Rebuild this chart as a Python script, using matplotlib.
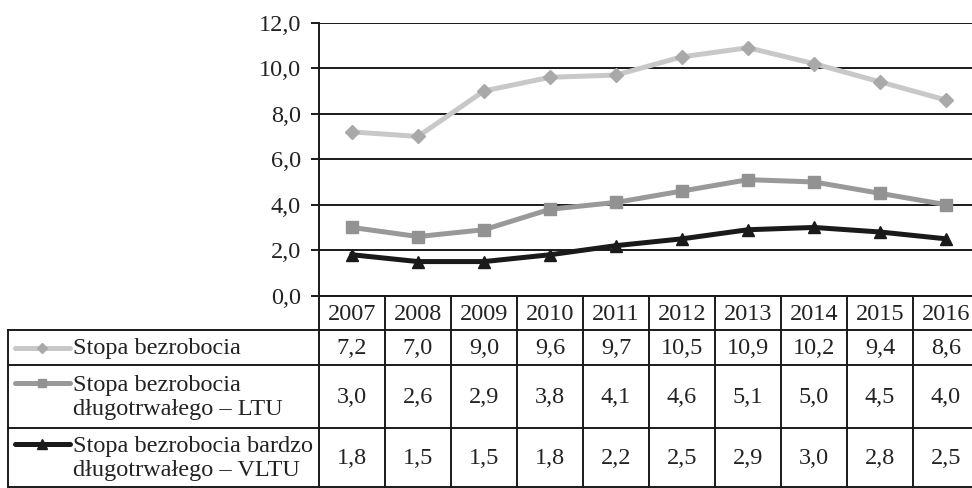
import numpy as np
import matplotlib
matplotlib.use('Agg')
import matplotlib.pyplot as plt
from matplotlib.transforms import blended_transform_factory

plt.rcParams['font.family'] = ['Liberation Serif', 'DejaVu Serif']

# Dane
years = ['2007', '2008', '2009', '2010', '2011', '2012', '2013', '2014', '2015', '2016']
stopa = [7.2, 7.0, 9.0, 9.6, 9.7, 10.5, 10.9, 10.2, 9.4, 8.6]
ltu = [3.0, 2.6, 2.9, 3.8, 4.1, 4.6, 5.1, 5.0, 4.5, 4.0]
vltu = [1.8, 1.5, 1.5, 1.8, 2.2, 2.5, 2.9, 3.0, 2.8, 2.5]
labels = ['Stopa bezrobocia',
          'Stopa bezrobocia\ndługotrwałego – LTU',
          'Stopa bezrobocia bardzo\ndługotrwałego – VLTU']

FS = 17.5


def fmt(v):
    return ('%.1f' % v).replace('.', ',')


W, H = 972, 488
fig = plt.figure(figsize=(W / 100, H / 100), dpi=100)

# obszar wykresu (w pikselach)
left, right, top, bottom = 319, 979, 22.7, 295.7
ax = fig.add_axes([left / W, (H - bottom) / H, (right - left) / W, (bottom - top) / H])
x = np.arange(len(years))

styles = [
    dict(color='#c8c8c8', marker='D', mfc='#a9a9a9', mec='#a9a9a9', ms=7),
    dict(color='#999999', marker='s', mfc='#929292', mec='#929292', ms=8),
    dict(color='#1a1a1a', marker='^', mfc='#1a1a1a', mec='#1a1a1a', ms=9),
]
series = [stopa, ltu, vltu]
for vals, st in zip(series, styles):
    ax.plot(x, vals, lw=3.6, solid_joinstyle='round', zorder=3, **st)

ax.set_xlim(-0.5, len(years) - 0.5)
ax.set_ylim(0, 12)
ax.set_yticks(np.arange(0, 13, 2))
ax.set_yticklabels([fmt(v) for v in np.arange(0, 13, 2)], fontsize=FS)
ax.set_xticks([])
ax.yaxis.grid(True, color='#1a1a1a', lw=1.4)
ax.set_axisbelow(True)
for s in ['top', 'right', 'bottom']:
    ax.spines[s].set_visible(False)
ax.spines['left'].set_color('#1a1a1a')
ax.spines['left'].set_linewidth(1.4)
ax.tick_params(axis='y', length=6, width=1.4, color='#1a1a1a', pad=7, labelcolor='#222222')
ax.patch.set_alpha(0)

# tabela danych
tab = fig.add_axes([0, 0, 1, 1], zorder=-1)
tab.set_xlim(0, W)
tab.set_ylim(H, 0)
tab.axis('off')
tr = blended_transform_factory(ax.transData, tab.transData)

rows = [296, 330, 365, 428, 487]
lc = '#1a1a1a'
lw = 1.4
x0 = -0.5
x1 = len(years) - 0.5
# linie poziome
tab.plot([x0, x1], [rows[0], rows[0]], color=lc, lw=lw, transform=tr, clip_on=False)
for r in rows[1:]:
    tab.plot([8, W + 10], [r, r], color=lc, lw=lw, clip_on=False)
# linie pionowe
for k in range(len(years) + 1):
    tab.plot([k - 0.5, k - 0.5], [rows[0], rows[-1]], color=lc, lw=lw, transform=tr, clip_on=False)
tab.plot([8, 8], [rows[1], rows[-1]], color=lc, lw=lw)

# nagłówek z latami
for i, yr in enumerate(years):
    tab.text(i, (rows[0] + rows[1]) / 2 + 1, yr, transform=tr, ha='center', va='center',
             fontsize=FS, color='#222222')

# wiersze z wartościami i legendą
for j, (vals, st, lab) in enumerate(zip(series, styles, labels)):
    yc = (rows[j + 1] + rows[j + 2]) / 2
    for i, v in enumerate(vals):
        tab.text(i, yc + 1, fmt(v), transform=tr, ha='center', va='center',
                 fontsize=FS, color='#222222')
    nl = lab.count('\n') + 1
    ly = yc - (nl - 1) * 13.5
    tab.plot([15, 70], [ly, ly], color=st['color'], lw=3.6, solid_capstyle='round')
    tab.plot([42], [ly], marker=st['marker'], mfc=st['mfc'], mec=st['mec'], ms=st['ms'] - 2)
    tab.text(73, yc + 1, lab, ha='left', va='center', fontsize=FS, color='#222222',
             linespacing=1.22)

fig.savefig('out.png', dpi=100)
